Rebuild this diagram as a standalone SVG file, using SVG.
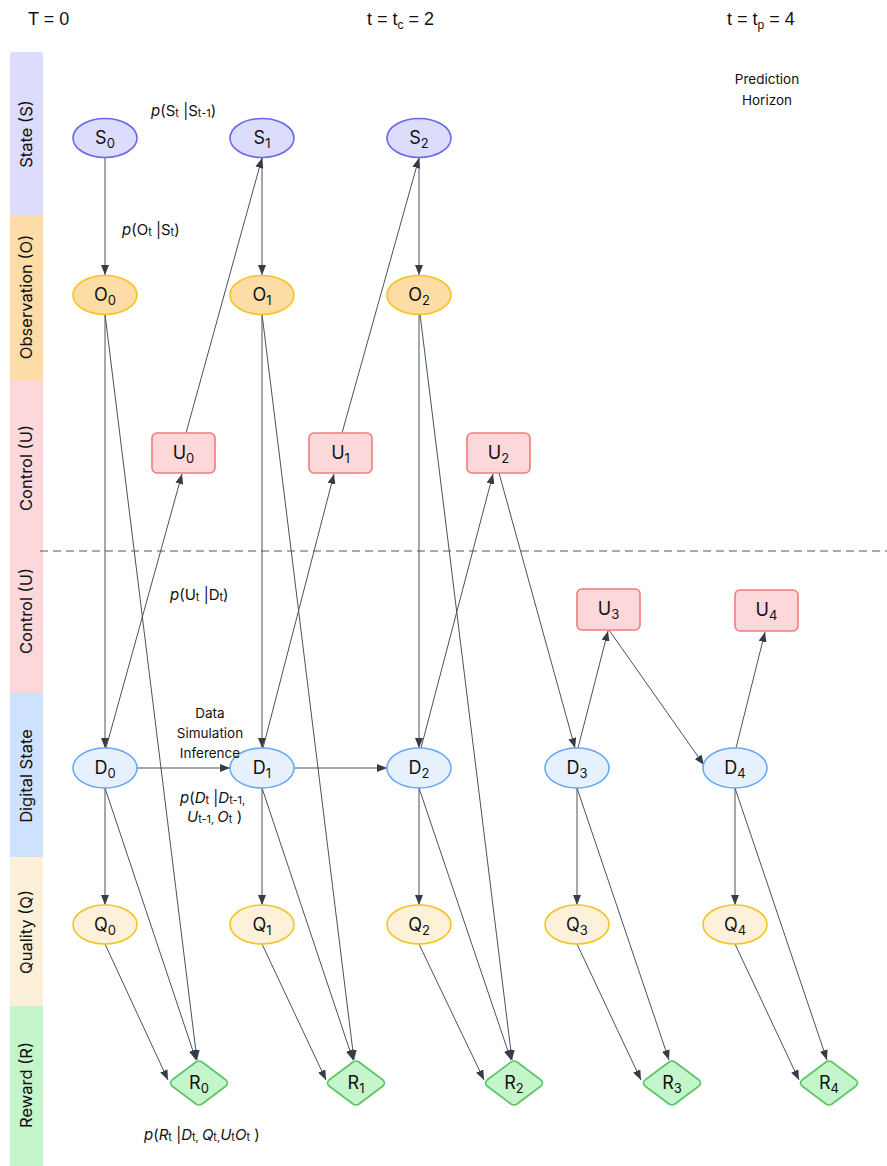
<svg xmlns="http://www.w3.org/2000/svg" width="887" height="1166" viewBox="0 0 887 1166">
<style>
text{font-family:Inter,"Liberation Sans",sans-serif;fill:#111;}
.hdr{font-family:"Liberation Sans",Arial,sans-serif;font-size:18px;}
.band{font-size:16.5px;text-anchor:middle;}
.lbl{font-size:18px;text-anchor:middle;}
.f{font-size:15px;}
.sm{font-size:13.5px;text-anchor:middle;}
.sb{font-size:11px;}
.nsb{font-size:13px;}
.it{font-style:italic;}
.S{fill:#dcdcfc;stroke:#6767f0;stroke-width:1.6;}
.O{fill:#fddca6;stroke:#f5c424;stroke-width:1.6;}
.U{fill:#fdd8db;stroke:#f27b7d;stroke-width:1.6;}
.D{fill:#e7f1fe;stroke:#68a8f6;stroke-width:1.6;}
.Q{fill:#fef1d9;stroke:#f5c424;stroke-width:1.6;}
.R{fill:#c5f5cb;stroke:#5bc464;stroke-width:1.6;stroke-linejoin:round;}
.e{stroke:#4a525c;stroke-width:1;fill:none;marker-end:url(#ah);}
</style>
<defs>
<marker id="ah" viewBox="0 0 10 8" refX="10" refY="4" markerWidth="10" markerHeight="8" markerUnits="userSpaceOnUse" orient="auto">
<path d="M0,0 L10,4 L0,8 Z" fill="#343d48"/>
</marker>
</defs>
<rect width="887" height="1166" fill="#ffffff"/>

<g id="header">
<text class="hdr" x="28" y="25">T = 0</text>
<text class="hdr" x="367" y="25">t = t<tspan font-size="12" dy="4">c</tspan><tspan dy="-4"> = 2</tspan></text>
<text class="hdr" x="727" y="25">t = t<tspan font-size="12" dy="4">p</tspan><tspan dy="-4"> = 4</tspan></text>
</g>

<g id="bands">
<rect x="10" y="52" width="33" height="164" rx="3" fill="#dcdcfc"/>
<rect x="10" y="215" width="33" height="166" fill="#fddca6"/>
<rect x="10" y="380" width="33" height="314" fill="#fdd8db"/>
<rect x="10" y="693" width="33" height="165" fill="#cfe2fd"/>
<rect x="10" y="857" width="33" height="150" fill="#fdf0d9"/>
<rect x="10" y="1006" width="33" height="160" fill="#c5f5cb"/>
<text class="band" transform="translate(32,134) rotate(-90)">State (S)</text>
<text class="band" transform="translate(32,297) rotate(-90)">Observation (O)</text>
<text class="band" transform="translate(32,468) rotate(-90)">Control (U)</text>
<text class="band" transform="translate(32,611) rotate(-90)">Control (U)</text>
<text class="band" transform="translate(32,776) rotate(-90)">Digital State</text>
<text class="band" transform="translate(32,932) rotate(-90)">Quality (Q)</text>
<text class="band" transform="translate(32,1085) rotate(-90)">Reward (R)</text>
</g>

<line id="divider" x1="40" y1="551" x2="887" y2="551" stroke="#555" stroke-width="1" stroke-dasharray="8 5"/>

<g id="connectors">
<line class="e" x1="105" y1="157" x2="105" y2="275"/>
<line class="e" x1="262" y1="157" x2="262" y2="275"/>
<line class="e" x1="419" y1="157" x2="419" y2="275"/>
<line class="e" x1="186" y1="433" x2="262" y2="158"/>
<line class="e" x1="342" y1="433" x2="419" y2="158"/>
<line class="e" x1="105" y1="314" x2="105" y2="748"/>
<line class="e" x1="262" y1="314" x2="262" y2="748"/>
<line class="e" x1="419" y1="314" x2="419" y2="748"/>
<line class="e" x1="105" y1="314" x2="197" y2="1060"/>
<line class="e" x1="262" y1="314" x2="354" y2="1060"/>
<line class="e" x1="420" y1="314" x2="512" y2="1060"/>
<line class="e" x1="106" y1="748" x2="182" y2="474"/>
<line class="e" x1="263" y1="748" x2="334" y2="474"/>
<line class="e" x1="421" y1="748" x2="493" y2="474"/>
<line class="e" x1="499" y1="473" x2="575" y2="748"/>
<line class="e" x1="578" y1="748" x2="608" y2="631"/>
<line class="e" x1="609" y1="630" x2="704" y2="765"/>
<line class="e" x1="736" y1="748" x2="765" y2="632"/>
<line class="e" x1="137" y1="768" x2="230" y2="768"/>
<line class="e" x1="294" y1="768" x2="387" y2="768"/>
<line class="e" x1="105" y1="788" x2="105" y2="905"/>
<line class="e" x1="262" y1="788" x2="262" y2="905"/>
<line class="e" x1="419" y1="788" x2="419" y2="905"/>
<line class="e" x1="577" y1="788" x2="577" y2="905"/>
<line class="e" x1="735" y1="788" x2="735" y2="905"/>
<line class="e" x1="105" y1="788" x2="196" y2="1060"/>
<line class="e" x1="262" y1="788" x2="353" y2="1060"/>
<line class="e" x1="419" y1="788" x2="511" y2="1060"/>
<line class="e" x1="577" y1="788" x2="669" y2="1060"/>
<line class="e" x1="735" y1="788" x2="827" y2="1060"/>
<line class="e" x1="105" y1="944" x2="168" y2="1080"/>
<line class="e" x1="262" y1="944" x2="326" y2="1080"/>
<line class="e" x1="419" y1="944" x2="484" y2="1080"/>
<line class="e" x1="577" y1="944" x2="641" y2="1080"/>
<line class="e" x1="735" y1="944" x2="799" y2="1080"/>
</g>

<g id="S0"><ellipse class="S" cx="105" cy="138" rx="32" ry="19.5"/><text class="lbl" x="105" y="144">S<tspan class="nsb" dy="4">0</tspan></text></g>
<g id="S1"><ellipse class="S" cx="262" cy="138" rx="32" ry="19.5"/><text class="lbl" x="262" y="144">S<tspan class="nsb" dy="4">1</tspan></text></g>
<g id="S2"><ellipse class="S" cx="419" cy="138" rx="32" ry="19.5"/><text class="lbl" x="419" y="144">S<tspan class="nsb" dy="4">2</tspan></text></g>

<g id="O0"><ellipse class="O" cx="105" cy="295" rx="32" ry="19.5"/><text class="lbl" x="105" y="301">O<tspan class="nsb" dy="4">0</tspan></text></g>
<g id="O1"><ellipse class="O" cx="262" cy="295" rx="32" ry="19.5"/><text class="lbl" x="262" y="301">O<tspan class="nsb" dy="4">1</tspan></text></g>
<g id="O2"><ellipse class="O" cx="419" cy="295" rx="32" ry="19.5"/><text class="lbl" x="419" y="301">O<tspan class="nsb" dy="4">2</tspan></text></g>

<g id="U0"><rect class="U" x="152" y="433" width="63" height="40" rx="5"/><text class="lbl" x="183.5" y="459">U<tspan class="nsb" dy="4">0</tspan></text></g>
<g id="U1"><rect class="U" x="309" y="433" width="63" height="40" rx="5"/><text class="lbl" x="340.5" y="459">U<tspan class="nsb" dy="4">1</tspan></text></g>
<g id="U2"><rect class="U" x="467" y="433" width="63" height="40" rx="5"/><text class="lbl" x="498.5" y="459">U<tspan class="nsb" dy="4">2</tspan></text></g>
<g id="U3"><rect class="U" x="577" y="589" width="63" height="41" rx="5"/><text class="lbl" x="608.5" y="615">U<tspan class="nsb" dy="4">3</tspan></text></g>
<g id="U4"><rect class="U" x="735" y="590" width="63" height="41" rx="5"/><text class="lbl" x="766.5" y="616">U<tspan class="nsb" dy="4">4</tspan></text></g>

<g id="D0"><ellipse class="D" cx="105" cy="768" rx="32" ry="20"/><text class="lbl" x="105" y="774">D<tspan class="nsb" dy="4">0</tspan></text></g>
<g id="D1"><ellipse class="D" cx="262" cy="768" rx="32" ry="20"/><text class="lbl" x="262" y="774">D<tspan class="nsb" dy="4">1</tspan></text></g>
<g id="D2"><ellipse class="D" cx="419" cy="768" rx="32" ry="20"/><text class="lbl" x="419" y="774">D<tspan class="nsb" dy="4">2</tspan></text></g>
<g id="D3"><ellipse class="D" cx="577" cy="768" rx="32" ry="20"/><text class="lbl" x="577" y="774">D<tspan class="nsb" dy="4">3</tspan></text></g>
<g id="D4"><ellipse class="D" cx="735" cy="768" rx="32" ry="20"/><text class="lbl" x="735" y="774">D<tspan class="nsb" dy="4">4</tspan></text></g>

<g id="Q0"><ellipse class="Q" cx="105" cy="924.5" rx="32" ry="19.5"/><text class="lbl" x="105" y="931">Q<tspan class="nsb" dy="4">0</tspan></text></g>
<g id="Q1"><ellipse class="Q" cx="262" cy="924.5" rx="32" ry="19.5"/><text class="lbl" x="262" y="931">Q<tspan class="nsb" dy="4">1</tspan></text></g>
<g id="Q2"><ellipse class="Q" cx="419" cy="924.5" rx="32" ry="19.5"/><text class="lbl" x="419" y="931">Q<tspan class="nsb" dy="4">2</tspan></text></g>
<g id="Q3"><ellipse class="Q" cx="577" cy="924.5" rx="32" ry="19.5"/><text class="lbl" x="577" y="931">Q<tspan class="nsb" dy="4">3</tspan></text></g>
<g id="Q4"><ellipse class="Q" cx="735" cy="924.5" rx="32" ry="19.5"/><text class="lbl" x="735" y="931">Q<tspan class="nsb" dy="4">4</tspan></text></g>

<g id="R0"><path class="R" d="M196,1062 Q199,1060 202,1062 L226,1080 Q229,1083 226,1086 L202,1104 Q199,1106 196,1104 L172,1086 Q169,1083 172,1080 Z"/><text class="lbl" x="199" y="1089">R<tspan class="nsb" dy="4">0</tspan></text></g>
<g id="R1"><path class="R" d="M353,1062 Q356,1060 359,1062 L383,1080 Q386,1083 383,1086 L359,1104 Q356,1106 353,1104 L329,1086 Q326,1083 329,1080 Z"/><text class="lbl" x="356" y="1089">R<tspan class="nsb" dy="4">1</tspan></text></g>
<g id="R2"><path class="R" d="M511,1062 Q514,1060 517,1062 L541,1080 Q544,1083 541,1086 L517,1104 Q514,1106 511,1104 L487,1086 Q484,1083 487,1080 Z"/><text class="lbl" x="514" y="1089">R<tspan class="nsb" dy="4">2</tspan></text></g>
<g id="R3"><path class="R" d="M669,1062 Q672,1060 675,1062 L699,1080 Q702,1083 699,1086 L675,1104 Q672,1106 669,1104 L645,1086 Q642,1083 645,1080 Z"/><text class="lbl" x="672" y="1089">R<tspan class="nsb" dy="4">3</tspan></text></g>
<g id="R4"><path class="R" d="M826,1062 Q829,1060 832,1062 L856,1080 Q859,1083 856,1086 L832,1104 Q829,1106 826,1104 L802,1086 Q799,1083 802,1080 Z"/><text class="lbl" x="829" y="1089">R<tspan class="nsb" dy="4">4</tspan></text></g>

<g id="annotations">
<text class="f" x="151" y="116"><tspan class="it">p</tspan>(S<tspan class="sb" dy="1">t</tspan><tspan dy="-1"> |S</tspan><tspan class="sb" dy="1">t-1</tspan><tspan dy="-1">)</tspan></text>
<text class="f" x="122" y="235"><tspan class="it">p</tspan>(O<tspan class="sb" dy="1">t</tspan><tspan dy="-1"> |S</tspan><tspan class="sb" dy="1">t</tspan><tspan dy="-1">)</tspan></text>
<text class="f" x="170" y="600"><tspan class="it">p</tspan>(U<tspan class="sb" dy="1">t</tspan><tspan dy="-1"> |D</tspan><tspan class="sb" dy="1">t</tspan><tspan dy="-1">)</tspan></text>
<text class="sm" x="210" y="718">Data</text>
<text class="sm" x="210" y="738">Simulation</text>
<text class="sm" x="210" y="758">Inference</text>
<text class="f" x="180" y="803"><tspan class="it">p</tspan>(<tspan class="it">D</tspan><tspan class="sb" dy="1">t</tspan><tspan dy="-1"> |</tspan><tspan class="it">D</tspan><tspan class="sb" dy="1">t-1,</tspan></text>
<text class="f" x="187" y="822"><tspan class="it">U</tspan><tspan class="sb" dy="1">t-1, </tspan><tspan class="it" dy="-1">O</tspan><tspan class="sb" dy="1">t</tspan><tspan dy="-1"> )</tspan></text>
<text class="f" x="144" y="1140"><tspan class="it">p</tspan>(<tspan class="it">R</tspan><tspan class="sb" dy="1">t</tspan><tspan dy="-1"> |</tspan><tspan class="it">D</tspan><tspan class="sb" dy="1">t, </tspan><tspan class="it" dy="-1">Q</tspan><tspan class="sb" dy="1">t,</tspan><tspan class="it" dy="-1">U</tspan><tspan class="sb" dy="1">t</tspan><tspan class="it" dy="-1">O</tspan><tspan class="sb" dy="1">t</tspan><tspan dy="-1"> )</tspan></text>
<text class="sm" x="767" y="84">Prediction</text>
<text class="sm" x="767" y="105">Horizon</text>
</g>
</svg>
